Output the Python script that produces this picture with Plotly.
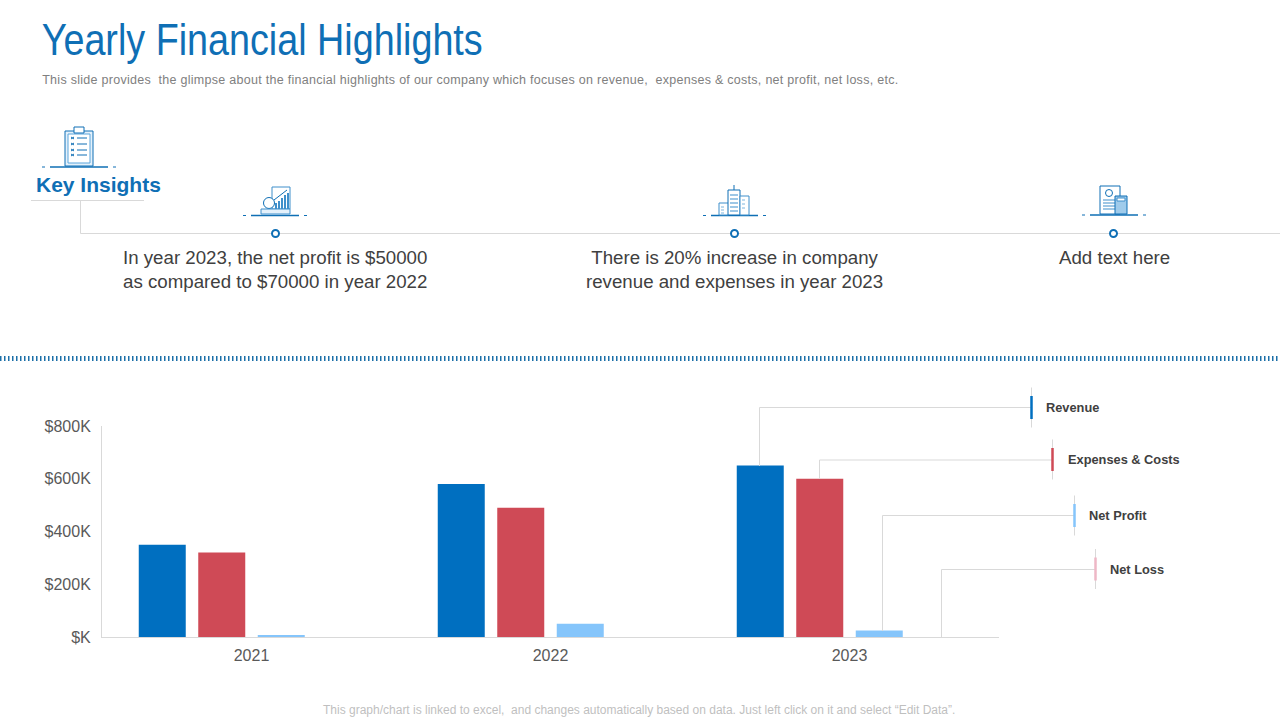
import plotly.graph_objects as go

years = ['2021', '2022', '2023']
revenue = [350, 580, 650]
expenses = [320, 490, 600]
net_profit = [5, 50, 25]
net_loss = [0, 0, 0]
series_names = ['Revenue', 'Expenses & Costs', 'Net Profit', 'Net Loss']
series_colors = ['#006fc0', '#cf4a56', '#85c5fb', '#eeb7c6']
y_ticks = [0, 200, 400, 600, 800]
y_labels = ['$K', '$200K', '$400K', '$600K', '$800K']

W, H = 1280, 720
BLUE = '#0f6fb5'
GREY = '#d9d9d9'
shapes = []
notes = []


def px(x):
    return x / W


def py(y):
    return 1 - y / H


def line(x0, y0, x1, y1, color=GREY, width=1, dash=None):
    shapes.append(dict(type='line', xref='paper', yref='paper', x0=px(x0), y0=py(y0), x1=px(x1), y1=py(y1),
                       line=dict(color=color, width=width, dash=dash)))


def rect(x0, y0, x1, y1, fill='#ffffff', color=BLUE, width=1):
    shapes.append(dict(type='rect', xref='paper', yref='paper', x0=px(x0), y0=py(y0), x1=px(x1), y1=py(y1),
                       fillcolor=fill, line=dict(color=color, width=width)))


def ring(cx, cy, r=3.5, width=2):
    shapes.append(dict(type='circle', xref='paper', yref='paper', x0=px(cx - r), y0=py(cy - r), x1=px(cx + r), y1=py(cy + r),
                       fillcolor='#ffffff', line=dict(color=BLUE, width=width)))


def text(x, y, s, size, color, anchor='left', family='Liberation Sans', weight=None):
    notes.append(dict(xref='paper', yref='paper', x=px(x), y=py(y), text=s, showarrow=False, xanchor=anchor, yanchor='middle',
                      align='center', font=dict(size=size, color=color, family=family, weight=weight)))


def base_rule(x0, x1, y):
    line(x0, y, x0 + 3, y, BLUE, 1)
    line(x0 + 8, y, x1 - 8, y, BLUE, 1.5)
    line(x1 - 3, y, x1, y, BLUE, 1)


# header, centred on the squeezed widths because textLength below keeps the middle anchor
text(261.5, 39, 'Yearly Financial Highlights', 44, '#0f6fb5', 'center')
text(470, 80, 'This slide provides  the glimpse about the financial highlights of our company which focuses on revenue,  expenses &amp; costs, net profit, net loss, etc.',
     12.5, '#808080', 'center')

# key insights connector
line(31, 200.5, 144, 200.5)
line(80.5, 200.5, 80.5, 233.5)
line(80.5, 233.5, 1280, 233.5)
for cx in [275.5, 734.5, 1113.5]:
    ring(cx, 233.5)
text(98, 185, 'Key Insights', 21, '#0f6fb5', 'center', weight='bold')

text(275, 269.5, 'In year 2023, the net profit is $50000<br>as compared to $70000 in year 2022', 18.7, '#404040', 'center')
text(734, 269.5, 'There is 20% increase in company<br>revenue and expenses in year 2023', 18.7, '#404040', 'center')
text(1114, 257.5, 'Add text here', 18.7, '#404040', 'center')

# clipboard icon
base_rule(42, 116, 167)
rect(65, 131, 93, 166, '#e4f1fb')
rect(68, 134, 90, 163, '#ffffff', '#5aa5dc')
rect(74, 127, 84, 133, '#ffffff')
for yy in [138, 144, 150, 155]:
    line(71, yy - 1, 74, yy + 1, BLUE, 1)
    line(71, yy + 1, 74, yy - 1, BLUE, 1)
    line(77, yy, 87, yy, BLUE, 1)

# chart and coins icon
base_rule(243, 307, 215.5)
rect(272, 187, 290, 209, '#ffffff', '#3f8fcb')
for xx, top in [(276, 203), (279, 201), (282, 198), (285, 195), (288, 193)]:
    line(xx, 209, xx, top, '#3f8fcb', 2)
line(274, 200, 287, 190, BLUE, 1)
ring(269, 203, 5.5, 1)
rect(261, 209, 290, 214, '#e4f1fb', '#3f8fcb')

# buildings icon
base_rule(703, 766, 215.5)
rect(719, 203, 729, 215, '#ffffff', '#3f8fcb')
rect(728, 190, 740, 215, '#ffffff', BLUE)
rect(740, 196, 749, 215, '#ffffff', '#3f8fcb')
line(734, 185, 734, 190, BLUE, 1)
for yy in [195, 199, 203, 207, 211]:
    line(730, yy, 738, yy, '#7db5de', 1.5)
for yy in [200, 204, 208]:
    line(742, yy, 747, yy, '#7db5de', 1, 'dot')
for yy in [207, 210, 213]:
    line(721, yy, 727, yy, '#7db5de', 1, 'dot')

# invoice icon
base_rule(1082, 1146, 215)
rect(1100, 186, 1120, 214, '#ffffff', BLUE)
ring(1109, 193, 3.5, 1)
for yy in [200, 203, 206, 209]:
    line(1103, yy, 1115, yy, '#3f8fcb', 1)
rect(1115, 196, 1127, 214, '#9fcbeb', BLUE)
rect(1117, 198, 1125, 201, '#ffffff', '#3f8fcb')

# hatched divider
line(0, 358.5, 1280, 358.5, '#1b6fa8', 5, '1.5px,2.5px')

fig = go.Figure()
for name, vals, col in zip(series_names, [revenue, expenses, net_profit, net_loss], series_colors):
    fig.add_trace(go.Bar(x=years, y=vals, name=name, marker=dict(color=col, line=dict(width=0))))

# callouts from the bars out to the labels
line(759.5, 466, 759.5, 407.5)
line(759.5, 407.5, 1031, 407.5)
line(819.5, 479, 819.5, 460)
line(819.5, 460, 1052, 460)
line(882.5, 631, 882.5, 515.5)
line(882.5, 515.5, 1074, 515.5)
line(941.5, 637, 941.5, 569.5)
line(941.5, 569.5, 1095, 569.5)

tag_x = [1031.5, 1052.5, 1074.5, 1095.5]
tag_y = [407.5, 459.5, 515.5, 569]
label_x = [1044, 1066, 1087, 1108]
for name, col, tx, ty, lx in zip(series_names, series_colors, tag_x, tag_y, label_x):
    line(tx, ty - 20, tx, ty + 20, GREY, 1)
    line(tx, ty - 11.5, tx, ty + 11.5, col, 2.5)
    text(lx, ty, name.replace('&', '&amp;'), 12.8, '#404040', weight='bold')

text(639, 710, 'This graph/chart is linked to excel,  and changes automatically based on data. Just left click on it and select “Edit Data”.',
     12, '#bfbfbf', 'center')

fig.update_layout(
    width=W, height=H,
    margin=dict(l=0, r=0, t=0, b=0, autoexpand=False),
    paper_bgcolor='#ffffff', plot_bgcolor='#ffffff',
    barmode='group', bargap=0.204, bargroupgap=0.21,
    showlegend=False,
    shapes=shapes, annotations=notes,
    font=dict(family='Liberation Sans', color='#595959'),
    xaxis=dict(domain=[px(102), px(999)], showgrid=False, showline=True, linecolor=GREY, linewidth=1,
               tickfont=dict(size=16, color='#595959'), ticks='', ticklabelstandoff=4),
    yaxis=dict(domain=[py(637), py(426)], range=[0, 800], tickvals=y_ticks, ticktext=y_labels, showgrid=False,
               zeroline=False, showline=True, linecolor=GREY, linewidth=1,
               tickfont=dict(size=16, color='#595959'), ticks='', ticklabelstandoff=7),
)

# no narrow font is installed, so squeeze the title to the reference width
fit_text = """
document.body.style.margin = '0';
document.querySelectorAll('.annotation-text').forEach(function (t) {
    if (t.textContent.startsWith('Yearly')) {
        t.setAttribute('textLength', '441');
        t.setAttribute('lengthAdjust', 'spacingAndGlyphs');
    }
    if (t.textContent.startsWith('This slide')) {
        t.setAttribute('textLength', '856');
    }
});
"""
fig.write_html("out.html", config={'displayModeBar': False}, post_script=fit_text)
